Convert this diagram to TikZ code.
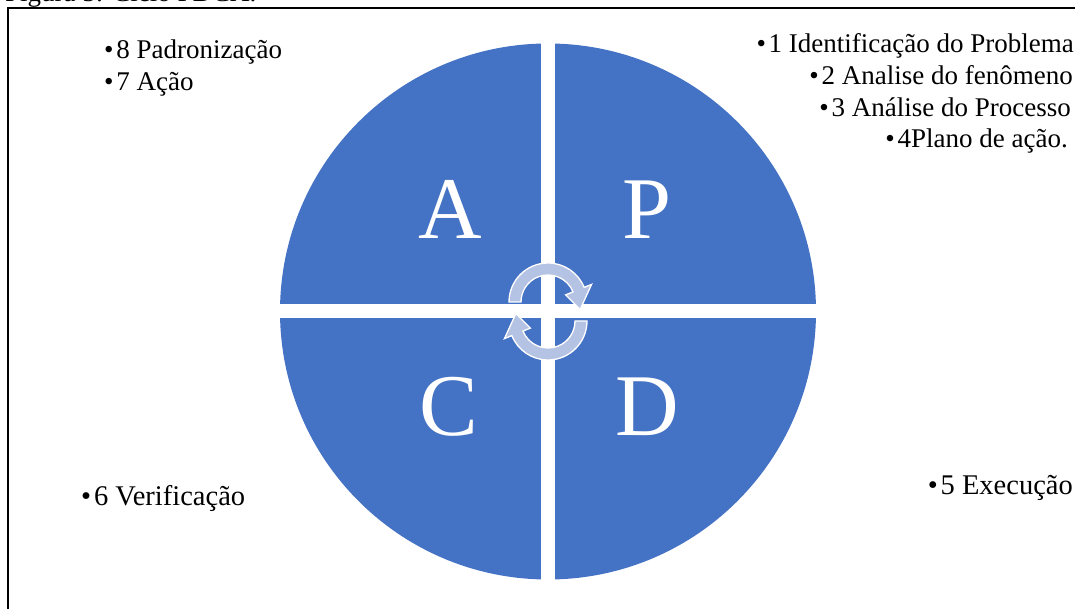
\documentclass[tikz,border=0pt]{standalone}
\usepackage{fontspec}
\setmainfont{Liberation Serif}
\usepackage{tikz}
\definecolor{pdcablue}{RGB}{68,114,196}
\definecolor{turnfill}{RGB}{180,194,227}

\begin{document}
\begin{tikzpicture}[x=1pt,y=1pt,
    letter/.style={text=white,font=\fontsize{88}{90}\selectfont,inner sep=0pt},
    item/.style={font=\fontsize{27}{30}\selectfont,inner sep=0pt},
    bigitem/.style={font=\fontsize{28.5}{32}\selectfont,inner sep=0pt},
    turn/.style={fill=turnfill,draw=white,line width=1.3pt}]
		\useasboundingbox (0,0) rectangle (1075,609);
		\clip (0,0) rectangle (1075,609);
		\node[item,anchor=base west] (caption) at (5,607) {Figura 5: Ciclo PDCA.};
		\draw[line width=1.5pt] (8,-10) |- (1090,601);
		\fill[pdcablue] (548,297.5) circle[radius=268pt];
		\fill[white] (541,25) rectangle (555,570);
		\fill[white] (275,290.5) rectangle (821,304.5);
		\node[letter] (act) at (450,400) {A};
		\node[letter] (plan) at (647,399) {P};
		\node[letter] (check) at (449,202) {C};
		\node[letter] (do) at (647,202) {D};
		\begin{scope}[shift={(548,307)}]
			\filldraw[turn] (180:39pt) arc[start angle=180,end angle=22,radius=39pt] -- (22:47pt) -- (-13:33pt) -- (22:19pt) -- (22:27pt) arc[start angle=22,end angle=180,radius=27pt] -- cycle;
		\end{scope}
		\begin{scope}[shift={(548,288)},rotate=180]
			\filldraw[turn] (180:39pt) arc[start angle=180,end angle=22,radius=39pt] -- (22:47pt) -- (-13:33pt) -- (22:19pt) -- (22:27pt) arc[start angle=22,end angle=180,radius=27pt] -- cycle;
		\end{scope}
		\node[item,anchor=base east] (i1) at (1074,556) {•\kern0.1em 1 Identificação do Problema};
		\node[item,anchor=base east] (i2) at (1073,524) {•\kern0.1em 2 Analise do fenômeno};
		\node[item,anchor=base east] (i3) at (1071,492) {•\kern0.1em 3 Análise do Processo};
		\node[item,anchor=base east] (i4) at (1068,461) {•\kern0.1em 4Plano de ação.};
		\node[bigitem,anchor=base east] (i5) at (1073,114) {•\kern0.1em 5 Execução};
		\node[bigitem,anchor=base west] (i6) at (81,103) {•\kern0.1em 6 Verificação};
		\node[item,anchor=base west] (i7) at (104,518) {•\kern0.1em 7 Ação};
		\node[item,anchor=base west] (i8) at (104,550) {•\kern0.1em 8 Padronização};
	\end{tikzpicture}
\end{document}
